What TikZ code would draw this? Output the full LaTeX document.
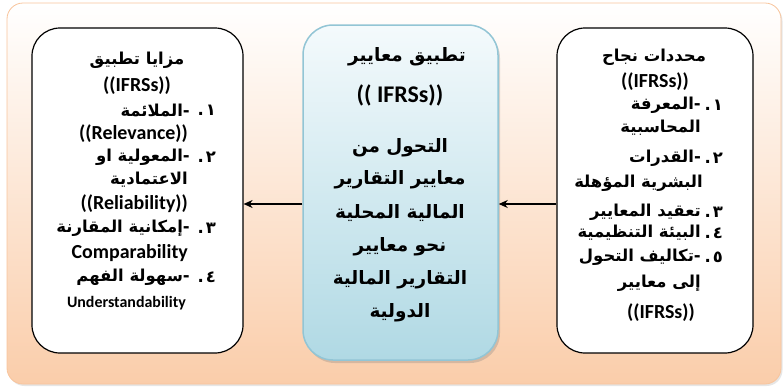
\documentclass[tikz,border=0pt]{standalone}
\usepackage{fontspec}
\setmainfont{DejaVu Sans}
\newfontfamily\arabicfont[Script=Arabic]{DejaVu Sans}
\newfontfamily\latinfont{Carlito}
\TeXXeTstate=1
\usetikzlibrary{arrows.meta,shadows}
\def\itemno#1{\mbox{.}\kern2bp\mbox{#1}}

\definecolor{peach}{RGB}{250,205,170}
\definecolor{frameline}{RGB}{248,196,156}
\definecolor{skyedge}{RGB}{146,197,213}
\definecolor{skytop}{RGB}{244,250,252}
\definecolor{skylow}{RGB}{176,217,228}

\tikzset{
	listbox/.style={draw=black, line width=1.2bp, fill=white, rounded corners=28bp, minimum width=211bp, minimum height=325bp},
	midbox/.style={draw=skyedge, line width=1.5bp, top color=skytop, bottom color=skylow, rounded corners=30bp, minimum width=195bp, minimum height=335bp, drop shadow={opacity=0.3, shadow xshift=2bp, shadow yshift=-3bp}},
	ar/.style={inner sep=0pt, font=\arabicfont\bfseries\fontsize{16.5}{19}\selectfont},
	arbig/.style={inner sep=0pt, font=\arabicfont\bfseries\fontsize{18.5}{22}\selectfont},
	la/.style={inner sep=0pt, font=\latinfont\bfseries\fontsize{20}{24}\selectfont},
	lasmall/.style={inner sep=0pt, font=\latinfont\bfseries\fontsize{16}{19}\selectfont},
	arr/.style={line width=1.2bp, -{Stealth[length=9bp,width=8bp]}}
}

\begin{document}
\begin{tikzpicture}[x=1bp, y=-1bp]
		%%%%% START %%%%%
		\useasboundingbox (0,0) rectangle (784,387);
		
		% background
		\draw[frameline, line width=0.8bp, top color=white, bottom color=peach, rounded corners=16bp, drop shadow={opacity=0.2, shadow xshift=1.5bp, shadow yshift=-2bp}] (7,3) rectangle (781,384);
		
		% boxes
		\node[listbox] (lft) at (137.5,190.5) {};
		\node[midbox] (mid) at (400.5,192.5) {};
		\node[listbox, minimum width=196bp] (rgt) at (655,190.5) {};
		
		% left box
		\node[ar] (lt1) at (137,60) {\beginR مزايا تطبيق\endR};
		\node[la] (lt2) at (137,86) {((IFRSs))};
		\node[ar, anchor=east] (ln1) at (216,110) {\itemno{١}};
		\node[ar, anchor=east] (lt3) at (190,110) {\beginR -الملائمة\endR};
		\node[la, anchor=east] (lt4) at (188,134) {((Relevance))};
		\node[ar, anchor=east] (ln2) at (216,157) {\itemno{٢}};
		\node[ar, anchor=east] (lt5) at (190,157) {\beginR -المعولية او\endR};
		\node[ar, anchor=east] (lt6) at (188,180) {\beginR الاعتمادية\endR};
		\node[la, anchor=east] (lt7) at (188,204) {((Reliability))};
		\node[ar, anchor=east] (ln3) at (216,228) {\itemno{٣}};
		\node[ar, anchor=east] (lt8) at (190,228) {\beginR -إمكانية المقارنة\endR};
		\node[la, anchor=east] (lt9) at (188,253) {Comparability};
		\node[ar, anchor=east] (ln4) at (216,277) {\itemno{٤}};
		\node[ar, anchor=east] (lt10) at (190,277) {\beginR -سهولة الفهم\endR};
		\node[lasmall, anchor=east] (lt11) at (186,303) {Understandability};
		
		% middle box
		\node[arbig] (mt1) at (407,57) {\beginR تطبيق معايير\endR};
		\node[la, font=\latinfont\bfseries\fontsize{24}{28}\selectfont] (mt2) at (400,95) {(( IFRSs))};
		\node[arbig] (mt3) at (400,148) {\beginR التحول من\endR};
		\node[arbig] (mt4) at (400,180) {\beginR معايير التقارير\endR};
		\node[arbig] (mt5) at (400,213) {\beginR المالية المحلية\endR};
		\node[arbig] (mt6) at (400,247) {\beginR نحو معايير\endR};
		\node[arbig] (mt7) at (400,280) {\beginR التقارير المالية\endR};
		\node[arbig] (mt8) at (400,313) {\beginR الدولية\endR};
		
		% right box
		\node[ar] (rt1) at (654,57) {\beginR محددات نجاح\endR};
		\node[la] (rt2) at (655,82) {((IFRSs))};
		\node[ar, anchor=east] (rn1) at (723,105) {\itemno{١}};
		\node[ar, anchor=east] (rt3) at (701,105) {\beginR -المعرفة\endR};
		\node[ar, anchor=east] (rt4) at (701,128) {\beginR المحاسبية\endR};
		\node[ar, anchor=east] (rn2) at (723,158) {\itemno{٢}};
		\node[ar, anchor=east] (rt5) at (701,158) {\beginR -القدرات\endR};
		\node[ar, anchor=east] (rt6) at (703,183) {\beginR البشرية المؤهلة\endR};
		\node[ar, anchor=east] (rn3) at (723,212) {\itemno{٣}};
		\node[ar, anchor=east] (rt7) at (701,212) {\beginR تعقيد المعايير\endR};
		\node[ar, anchor=east] (rn4) at (723,233) {\itemno{٤}};
		\node[ar, anchor=east] (rt8) at (701,233) {\beginR البيئة التنظيمية\endR};
		\node[ar, anchor=east] (rn5) at (723,257) {\itemno{٥}};
		\node[ar, anchor=east] (rt9) at (701,257) {\beginR -تكاليف التحول\endR};
		\node[ar, anchor=east] (rt10) at (701,283) {\beginR إلى معايير\endR};
		\node[la, anchor=east] (rt11) at (695,313) {((IFRSs))};
		
		% arrows
		\coordinate (lvl) at (0,204);
		\draw[arr] (mid.west |- lvl) -- (lft.east |- lvl);
		\draw[arr] (rgt.west |- lvl) -- (mid.east |- lvl);
		
		%%%%% END %%%%%
\end{tikzpicture}
\end{document}
